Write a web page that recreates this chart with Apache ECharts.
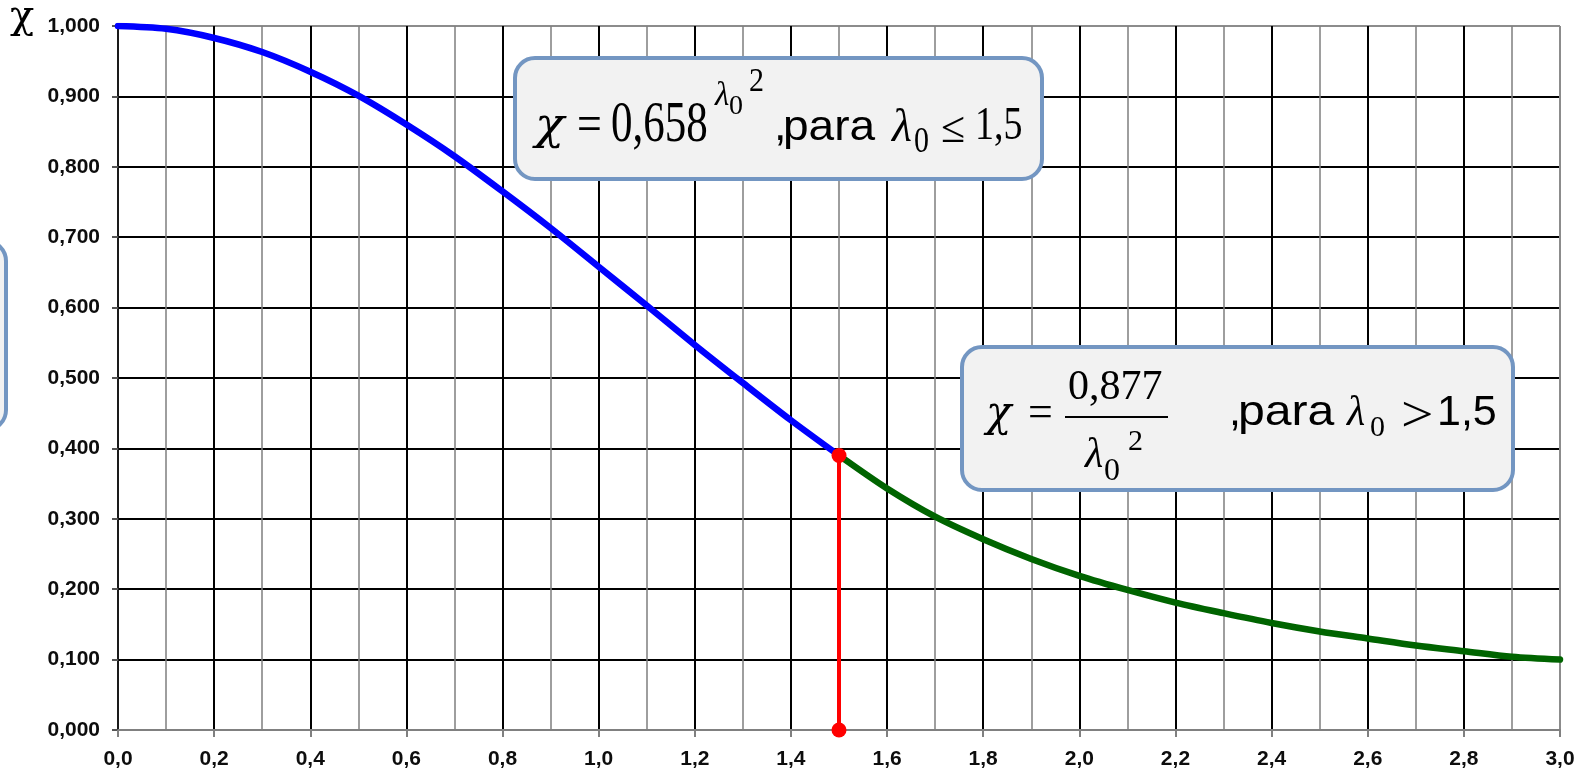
<!DOCTYPE html>
<html>
<head>
<meta charset="utf-8">
<script src="https://cdn.jsdelivr.net/npm/echarts@6/dist/echarts.min.js"></script>
<style>
  html, body { margin: 0; padding: 0; background: #ffffff; }
  #chart { width: 1588px; height: 774px; }
</style>
</head>
<body>
<div id="chart"></div>
<script>
// Reduction factor χ against relative slenderness λ0
const lambdaLow  = [0.0, 0.1, 0.2, 0.3, 0.4, 0.5, 0.6, 0.7, 0.8, 0.9, 1.0, 1.1, 1.2, 1.3, 1.4, 1.5];
const chiLow     = [1.000, 0.996, 0.983, 0.963, 0.935, 0.901, 0.860, 0.815, 0.765, 0.713, 0.658, 0.603, 0.547, 0.493, 0.440, 0.390];
const lambdaHigh = [1.5, 1.6, 1.7, 1.8, 1.9, 2.0, 2.1, 2.2, 2.3, 2.4, 2.5, 2.6, 2.7, 2.8, 2.9, 3.0];
const chiHigh    = [0.390, 0.343, 0.303, 0.271, 0.243, 0.219, 0.199, 0.181, 0.166, 0.152, 0.140, 0.130, 0.120, 0.112, 0.104, 0.100];
// Limit between the two formulas
const limitLambda = 1.5;
const limitChi = 0.390;

const xMin = 0, xMax = 3.0, xStep = 0.2;
const yMin = 0, yMax = 1.0, yStep = 0.1;

const pairs = (xs, ys) => xs.map((x, i) => [x, ys[i]]);

const SERIF = '"Liberation Serif", "Times New Roman", serif';
const GREEK = '"DejaVu Serif", "Liberation Serif", serif';
const SANS = '"Liberation Sans", Arial, sans-serif';

// Text piece placed by its left edge and baseline
function piece(str, left, base, size, fam, o) {
  o = o || {};
  return {
    type: 'text', x: left, y: base, z: 120,
    scaleX: o.sx || 1, scaleY: o.sy || 1,
    style: {
      text: str, x: 0, y: -0.34 * size,
      fontSize: size, fontFamily: fam,
      fontStyle: o.italic ? 'italic' : 'normal',
      fill: '#000', align: 'left', verticalAlign: 'middle'
    }
  };
}
function box(x, y, w, h) {
  return {
    type: 'rect', z: 100,
    shape: { x: x, y: y, width: w, height: h, r: 20 },
    style: { fill: '#f2f2f2', stroke: '#7396c2', lineWidth: 4 }
  };
}

// Grid colour lists: last line (top / right border) is grey
const ySplitColors = [];
for (let i = 0; i <= 10; i++) ySplitColors.push(i === 10 ? '#8c8c8c' : '#000000');
const xSplitColors = [];
for (let i = 0; i <= 15; i++) xSplitColors.push(i === 15 ? '#8c8c8c' : '#000000');

const labelFont = { fontFamily: '"Liberation Sans", Arial, sans-serif', fontWeight: 'bold', fontSize: 21, color: '#0d0d0d' };

const chart = echarts.init(document.getElementById('chart'), null, { renderer: 'canvas' });

chart.setOption({
  backgroundColor: '#ffffff',
  animation: false,
  grid: { left: 118, right: 28, top: 26, bottom: 44, containLabel: false },
  xAxis: {
    type: 'value', min: xMin, max: xMax, interval: xStep,
    axisLine: { show: true, lineStyle: { color: '#808080', width: 2 } },
    axisTick: { show: true, length: 7, lineStyle: { color: '#808080', width: 2 } },
    axisLabel: Object.assign({ margin: 19, formatter: v => v.toFixed(1).replace('.', ',') }, labelFont),
    splitLine: { show: true, lineStyle: { color: xSplitColors, width: 2 } },
    minorTick: { show: false, splitNumber: 2 },
    minorSplitLine: { show: true, lineStyle: { color: '#7f7f7f', width: 1.5 } }
  },
  yAxis: {
    type: 'value', min: yMin, max: yMax, interval: yStep,
    axisLine: { show: true, lineStyle: { color: '#1a1a1a', width: 2 } },
    axisTick: { show: true, length: 6, lineStyle: { color: '#555', width: 2 } },
    axisLabel: Object.assign({ margin: 18, formatter: v => v.toFixed(3).replace('.', ',') }, labelFont),
    splitLine: { show: true, lineStyle: { color: ySplitColors, width: 2 } }
  },
  series: [
    {
      name: 'χ = 0,658^(λ0²)', type: 'line', data: pairs(lambdaLow, chiLow),
      smooth: 0.3, showSymbol: false, z: 3,
      lineStyle: { color: '#0000ff', width: 6.5, cap: 'round' }
    },
    {
      name: 'χ = 0,877/λ0²', type: 'line', data: pairs(lambdaHigh, chiHigh),
      smooth: 0.3, showSymbol: false, z: 3,
      lineStyle: { color: '#006400', width: 6.5, cap: 'round' }
    },
    {
      name: 'λ0 = 1,5', type: 'line', data: [[limitLambda, 0], [limitLambda, limitChi]],
      showSymbol: true, symbol: 'circle', symbolSize: 15, z: 4,
      lineStyle: { color: '#ff0000', width: 4 },
      itemStyle: { color: '#ff0000' }
    }
  ],
  graphic: [
    // axis name
    piece('χ', 10, 31, 40, GREEK),
    // box at the left edge
    box(-40, 241, 46, 189),
    // χ = 0,658^(λ0²), para λ0 ≤ 1,5
    box(515, 58, 527, 121),
    piece('χ', 535, 143, 44, GREEK, { italic: true, sx: 1.1 }),
    piece('=', 577, 145, 44, SERIF, { sy: 1.2 }),
    piece('0,658', 611, 145, 43, SERIF, { sy: 1.35 }),
    piece('λ', 715, 108, 33, SERIF, { italic: true }),
    piece('0', 729, 116, 28, SERIF),
    piece('2', 749, 94, 30, SERIF, { sy: 1.1 }),
    piece(',', 774, 143, 45, SANS),
    piece('para', 783, 143, 43, SANS, { sx: 1.07 }),
    piece('λ', 892, 145, 46, SERIF, { italic: true }),
    piece('0', 914, 155, 30, SERIF, { sy: 1.2 }),
    piece('≤', 941, 145, 44, SERIF),
    piece('1,5', 975, 143, 38, SERIF, { sy: 1.2 }),
    // χ = 0,877 / λ0², para λ0 > 1,5
    box(962, 347, 551, 143),
    piece('χ', 986, 429, 42, GREEK, { italic: true }),
    piece('=', 1028, 429, 44, SERIF),
    piece('0,877', 1068, 402, 42, SERIF),
    { type: 'line', z: 120, shape: { x1: 1065, y1: 417, x2: 1168, y2: 417 }, style: { stroke: '#000', lineWidth: 2 } },
    piece('λ', 1085, 470, 42, SERIF, { italic: true }),
    piece('0', 1104, 482, 32, SERIF),
    piece('2', 1128, 452, 30, SERIF),
    piece(',', 1229, 428, 43, SANS),
    piece('para', 1238, 428, 43, SANS, { sx: 1.12 }),
    piece('λ', 1347, 428, 42, SERIF, { italic: true }),
    piece('0', 1370, 438, 30, SERIF),
    piece('>', 1401, 435, 50, SERIF, { sx: 1.15 }),
    piece('1,5', 1437, 428, 43, SANS)
  ]
});
</script>
</body>
</html>
